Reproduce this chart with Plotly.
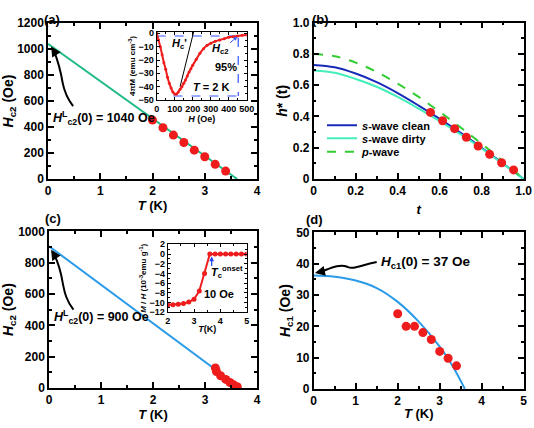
import plotly.graph_objects as go

FONT = "Liberation Sans, Arial, sans-serif"
RED = "#ee1c1c"

# ---------- data ----------
# (a) Hc2 vs T
a_T = [2.0, 2.2, 2.4, 2.6, 2.8, 3.0, 3.2, 3.4]
a_H = [453, 394, 338, 281, 222, 171, 113, 61]
a_fitT = [0.0, 3.62]
a_fitH = [1040, 0]

# (a) inset: 4piM vs H at 2 K
ia_H = [0, 10, 20, 30, 40, 50, 60, 70, 80, 90, 100, 110, 120, 130, 140, 150, 160, 170,
        180, 190, 200, 220, 240, 260, 280, 300, 325, 350, 375, 400, 425, 450, 475, 500]
ia_M = [0, -5, -10, -16, -22, -27, -33, -37.5, -41, -44, -45.5, -45.5, -44, -42, -40,
        -37.5, -35, -32, -29, -26.5, -24, -19.5, -15, -11.5, -9, -7.5, -6, -5, -4, -3,
        -2.5, -2, -1.5, -1.2]
ia_tanH = [130, 205]
ia_tanM = [-40, 1]
ia_dashTopH = [0, 453]
ia_dashTopM = [-2, -2]
ia_dashVH = [453, 453]
ia_dashVM = [-3.5, -47]
ia_dashBotH = [93, 453]
ia_dashBotM = [-47, -47]

# (b) reduced field h*(t)
b_t = [0.556, 0.614, 0.671, 0.727, 0.783, 0.838, 0.895, 0.952]
b_h = [0.426, 0.373, 0.322, 0.267, 0.211, 0.158, 0.104, 0.058]
curve_t = [0.0, 0.1, 0.2, 0.3, 0.4, 0.5, 0.6, 0.7, 0.8, 0.9, 1.0]
clean_h = [0.73, 0.715, 0.675, 0.62, 0.55, 0.47, 0.385, 0.295, 0.20, 0.10, 0.0]
dirty_h = [0.695, 0.68, 0.64, 0.59, 0.525, 0.45, 0.37, 0.285, 0.195, 0.098, 0.0]
pwave_h = [0.80, 0.785, 0.745, 0.685, 0.61, 0.525, 0.43, 0.33, 0.225, 0.115, 0.0]
b_ticks = [0, 0.2, 0.4, 0.6, 0.8, 1.0]
b_ticktext = ["0", "0.2", "0.4", "0.6", "0.8", "1.0"]

# (c) Hc2 vs T
c_T = [3.2, 3.22, 3.3, 3.4, 3.48, 3.55, 3.62]
c_H = [128, 105, 78, 55, 35, 20, 8]
c_fitT = [0.0, 3.68]
c_fitH = [905, 0]

# (c) inset: M/H vs T at 10 Oe
ic_T = [2.0, 2.2, 2.4, 2.6, 2.8, 3.0, 3.2, 3.4, 3.6, 3.8, 4.0, 4.2, 4.4, 4.6, 4.8, 5.0]
ic_M = [-10.5, -10.45, -10.35, -10.2, -9.9, -9.3, -7.6, -4.0, 0, 0, 0, 0, 0, 0, 0, 0]

# (d) Hc1 vs T
d_T = [2.0, 2.2, 2.4, 2.6, 2.8, 3.0, 3.2, 3.4]
d_H = [24, 20, 20, 18, 15.8, 12, 9.8, 7.4]
d_fitT = [0.0, 0.5, 1.0, 1.5, 2.0, 2.5, 3.0, 3.3, 3.6]
d_fitH = [36.2, 35.8, 34.6, 32.2, 27.8, 21.5, 13.5, 7.5, 0.0]

fig = go.Figure()

def mk(x, y, xa, ya, color=RED, size=9):
    return go.Scatter(x=x, y=y, mode="markers", xaxis=xa, yaxis=ya, showlegend=False,
                      marker=dict(color=color, size=size), hoverinfo="skip")

def ln(x, y, xa, ya, color, width=2, dash=None, shape="linear", name=None, legend=None):
    return go.Scatter(x=x, y=y, mode="lines", xaxis=xa, yaxis=ya,
                      showlegend=name is not None, name=name, legend=legend,
                      line=dict(color=color, width=width, dash=dash, shape=shape),
                      hoverinfo="skip")

# panel a
fig.add_trace(ln(a_fitT, a_fitH, "x", "y", "#22bb88"))
fig.add_trace(mk(a_T, a_H, "x", "y"))
# inset a
fig.add_trace(ln(ia_dashTopH, ia_dashTopM, "x5", "y5", "#3355ff", 1.2, "dash"))
fig.add_trace(ln(ia_dashVH, ia_dashVM, "x5", "y5", "#3355ff", 1.2, "dash"))
fig.add_trace(ln(ia_dashBotH, ia_dashBotM, "x5", "y5", "#3355ff", 1.2, "dash"))
fig.add_trace(ln(ia_tanH, ia_tanM, "x5", "y5", "black", 1))
fig.add_trace(go.Scatter(x=ia_H, y=ia_M, mode="lines+markers", xaxis="x5", yaxis="y5",
                         showlegend=False, line=dict(color=RED, width=2, shape="spline"),
                         marker=dict(color=RED, size=3), hoverinfo="skip"))
# panel b
fig.add_trace(ln(curve_t, clean_h, "x2", "y2", "#1a2ab8", 2, shape="spline",
                 name="<i>s</i>-wave clean", legend="legend"))
fig.add_trace(ln(curve_t, dirty_h, "x2", "y2", "#44eebb", 2, shape="spline",
                 name="<i>s</i>-wave dirty", legend="legend2"))
fig.add_trace(ln(curve_t, pwave_h, "x2", "y2", "#33cc33", 2, dash="dash", shape="spline",
                 name="<i>p</i>-wave", legend="legend3"))
fig.add_trace(mk(b_t, b_h, "x2", "y2"))
# panel c
fig.add_trace(ln(c_fitT, c_fitH, "x3", "y3", "#2b9be8"))
fig.add_trace(mk(c_T, c_H, "x3", "y3"))
# inset c
fig.add_trace(go.Scatter(x=ic_T, y=ic_M, mode="lines+markers", xaxis="x6", yaxis="y6",
                         showlegend=False, line=dict(color=RED, width=2),
                         marker=dict(color=RED, size=5), hoverinfo="skip"))
# panel d
fig.add_trace(ln(d_fitT, d_fitH, "x4", "y4", "#2b9be8", shape="spline"))
fig.add_trace(mk(d_T, d_H, "x4", "y4"))

W, H = 534, 428
def px(x0, x1):
    return [x0 / W, x1 / W]
def py(top, bottom):
    return [1 - bottom / H, 1 - top / H]

def axis(domain, rng, dtick, mdtick, anchor, title="", fs=12, tfs=13, standoff=2,
         ticklen=6, mlen=3, lw=1.5, tickvals=None, ticktext=None):
    d = dict(domain=domain, range=rng, dtick=dtick, tick0=0, anchor=anchor,
             showline=True, linecolor="black", linewidth=lw, mirror="allticks",
             ticks="inside", ticklen=ticklen, tickwidth=lw, tickcolor="black",
             minor=dict(ticks="inside", dtick=mdtick, tick0=0, ticklen=mlen, tickwidth=lw,
                        tickcolor="black"),
             showgrid=False, zeroline=False, automargin=False,
             tickfont=dict(family=FONT, size=fs, color="black", weight="bold"),
             title=dict(text=title, standoff=standoff,
                        font=dict(family=FONT, size=tfs, color="black", weight="bold")))
    if tickvals is not None:
        d["tickmode"] = "array"
        d["tickvals"] = tickvals
        d["ticktext"] = ticktext
    return d

lay = dict(
    width=W, height=H, margin=dict(l=0, r=0, t=0, b=0),
    paper_bgcolor="white", plot_bgcolor="white",
    font=dict(family=FONT, color="black"),
    xaxis=axis(px(48, 257), [0, 4], 1, 0.5, "y", "<i>T</i> (K)"),
    yaxis=axis(py(23, 179), [0, 1200], 200, 100, "x", "<i>H</i><sub>c2</sub> (Oe)", tfs=14),
    xaxis2=axis(px(313.7, 523.7), [0, 1.0001], 0.2, 0.1, "y2", "<i>t</i>", standoff=8,
                tickvals=b_ticks, ticktext=b_ticktext),
    yaxis2=axis(py(22.7, 179), [0, 1.0001], 0.2, 0.1, "x2", "<i>h</i>* (t)", tfs=14,
                tickvals=b_ticks, ticktext=b_ticktext),
    xaxis3=axis(px(49, 257), [0, 4], 1, 0.5, "y3", "<i>T</i> (K)"),
    yaxis3=axis(py(231.3, 388), [0, 1000], 200, 100, "x3", "<i>H</i><sub>c2</sub> (Oe)", tfs=14),
    xaxis4=axis(px(313.7, 523.7), [0, 5], 1, 0.5, "y4", "<i>T</i> (K)"),
    yaxis4=axis(py(232.3, 389), [0, 50], 10, 5, "x4", "<i>H</i><sub>c1</sub> (Oe)", tfs=14),
    xaxis5=axis(px(156.7, 246.7), [0, 500], 100, 50, "y5", "<i>H</i> (Oe)", fs=9, tfs=9,
                standoff=1, ticklen=3, mlen=2, lw=1),
    yaxis5=axis(py(32, 100), [-50, 1], 10, 5, "x5", "4πM (emu cm<sup>-3</sup>)", fs=9, tfs=8,
                standoff=1, ticklen=3, mlen=2, lw=1),
    xaxis6=axis(px(167.7, 246.7), [2, 5], 1, 0.5, "y6", "<i>T</i>(K)", fs=9, tfs=9,
                standoff=0, ticklen=3, mlen=2, lw=1),
    yaxis6=axis(py(244.3, 312.3), [-12, 2], 2, 1, "x6",
                "<i>M</i> / <i>H</i> (10<sup>-3</sup>emu g<sup>-1</sup>)", fs=9, tfs=8,
                standoff=1, ticklen=3, mlen=2, lw=1),
)
leg_common = dict(xanchor="left", yanchor="middle", bgcolor="rgba(0,0,0,0)",
                  font=dict(family=FONT, size=11, color="black", weight="bold"),
                  itemwidth=30)
lay["legend"] = dict(x=322 / W, y=1 - 125.3 / H, **leg_common)
lay["legend2"] = dict(x=322 / W, y=1 - 138.3 / H, **leg_common)
lay["legend3"] = dict(x=322 / W, y=1 - 151.7 / H, **leg_common)
fig.update_layout(**lay)

def note(text, x, y, xref, yref, size=13, xanchor="center", color="black", bold=True):
    fig.add_annotation(text=text, x=x, y=y, xref=xref, yref=yref, showarrow=False,
                       xanchor=xanchor, font=dict(family=FONT, size=size, color=color,
                                                  weight="bold" if bold else "normal"))

# panel labels
note("(a)", 52 / W, 1 - 10 / H, "paper", "paper", 13)
note("(b)", 320 / W, 1 - 10 / H, "paper", "paper", 13)
note("(c)", 53 / W, 1 - 218 / H, "paper", "paper", 13)
note("(d)", 314 / W, 1 - 219 / H, "paper", "paper", 13)

# panel a text + curly arrow
note("<i>H</i><sup>L</sup><sub>c2</sub>(0) = 1040 Oe", 0.06, 470, "x", "y", 12.5, "left")
fig.add_shape(type="path", xref="x", yref="y",
              path="M 0.48,560 C 0.33,640 0.30,700 0.28,740 C 0.26,790 0.20,900 0.11,990",
              line=dict(color="black", width=2))
fig.add_annotation(x=0.06, y=1020, ax=0.13, ay=975, xref="x", yref="y", axref="x", ayref="y",
                   text="", showarrow=True, arrowhead=2, arrowsize=1, arrowwidth=2,
                   arrowcolor="black")

# panel c text + curly arrow
note("<i>H</i><sup>L</sup><sub>c2</sub>(0) = 900 Oe", 0.06, 455, "x3", "y3", 12.5, "left")
fig.add_shape(type="path", xref="x3", yref="y3",
              path="M 0.47,500 C 0.33,560 0.30,610 0.27,660 C 0.24,720 0.18,800 0.10,850",
              line=dict(color="black", width=2))
fig.add_annotation(x=0.04, y=882, ax=0.12, ay=840, xref="x3", yref="y3", axref="x3", ayref="y3",
                   text="", showarrow=True, arrowhead=2, arrowsize=1, arrowwidth=2,
                   arrowcolor="black")

# panel d text + curly arrow
note("<i>H</i><sub>c1</sub>(0) = 37 Oe", 1.55, 40.5, "x4", "y4", 13.5, "left")
fig.add_shape(type="path", xref="x4", yref="y4",
              path="M 1.5,40.5 C 1.1,39.5 0.95,38 0.8,39 C 0.6,40 0.4,38.5 0.15,37.3",
              line=dict(color="black", width=2))
fig.add_annotation(x=0.03, y=37, ax=0.2, ay=37.5, xref="x4", yref="y4", axref="x4", ayref="y4",
                   text="", showarrow=True, arrowhead=2, arrowsize=1, arrowwidth=2,
                   arrowcolor="black")

# inset a texts
note("<i>H</i><sub>c</sub>'", 126, -8, "x5", "y5", 11)
note("<i>H</i><sub>c2</sub>", 356, -11.5, "x5", "y5", 11)
note("95%", 383, -25, "x5", "y5", 11)
note("<i>T</i> = 2 K", 300, -40, "x5", "y5", 11)
fig.add_annotation(x=448, y=-2.5, ax=400, ay=-8, xref="x5", yref="y5", axref="x5", ayref="y5",
                   text="", showarrow=True, arrowhead=2, arrowsize=0.8, arrowwidth=1,
                   arrowcolor="#3355ff")

# inset c texts
fig.add_annotation(x=3.67, y=-0.5, ax=3.67, ay=-2.8, xref="x6", yref="y6", axref="x6", ayref="y6",
                   text="", showarrow=True, arrowhead=2, arrowsize=0.8, arrowwidth=1.2,
                   arrowcolor="#2244ee")
note("<i>T</i><sub>c</sub><sup>onset</sup>", 3.58, -3.6, "x6", "y6", 11, "left")
note("10 Oe", 3.95, -8.2, "x6", "y6", 11)

fig.write_html("out.html", config={"displayModeBar": False},
               post_script="document.body.style.margin='0';document.body.style.overflow='hidden';")
